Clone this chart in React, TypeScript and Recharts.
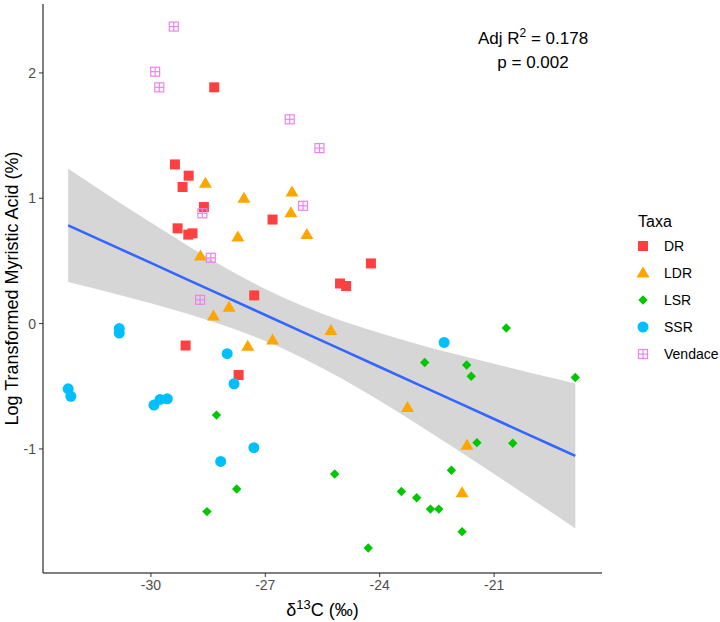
// 탄소 동위원소 vs 미리스트산 산점도 + 회귀선
import { ComposedChart, Scatter, Area, Line, XAxis, YAxis } from "recharts";

const FONT = '"Liberation Sans", Arial, Helvetica, sans-serif';

const taxa = ["DR", "LDR", "LSR", "SSR", "Vendace"];
const taxaColors = ["#FF4040", "#FFA500", "#00C800", "#00BFFF", "#EE82EE"];

const drX = [-28.34, -29.37, -29.01, -29.17, -28.61, -29.3, -29.02, -28.91, -26.81, -24.23, -25.04, -24.88, -27.29, -29.09, -27.7];
const drY = [1.885, 1.27, 1.18, 1.09, 0.93, 0.76, 0.71, 0.72, 0.83, 0.48, 0.32, 0.3, 0.225, -0.175, -0.41];

const ldrX = [-28.57, -27.56, -26.3, -26.33, -27.72, -25.91, -28.7, -27.95, -28.36, -27.46, -26.81, -25.28, -23.27, -21.71, -21.84];
const ldrY = [1.12, 1.0, 1.05, 0.885, 0.69, 0.71, 0.54, 0.13, 0.06, -0.18, -0.13, -0.055, -0.67, -0.97, -1.35];

const lsrX = [-20.68, -22.82, -21.72, -21.6, -18.87, -21.45, -20.51, -25.18, -22.12, -23.43, -23.03, -22.67, -22.45, -21.84, -24.3, -28.28, -27.75, -28.53];
const lsrY = [-0.035, -0.31, -0.33, -0.42, -0.43, -0.95, -0.955, -1.2, -1.17, -1.34, -1.39, -1.48, -1.48, -1.66, -1.79, -0.73, -1.32, -1.5];

const ssrX = [-32.17, -32.1, -30.83, -30.83, -29.92, -29.76, -29.57, -28.0, -27.82, -28.17, -27.3, -22.31];
const ssrY = [-0.52, -0.58, -0.04, -0.075, -0.65, -0.605, -0.6, -0.24, -0.48, -1.1, -0.99, -0.15];

const vendaceX = [-29.4, -29.89, -29.78, -26.36, -25.58, -26.01, -28.65, -28.43, -28.71];
const vendaceY = [2.37, 2.01, 1.885, 1.63, 1.4, 0.94, 0.88, 0.525, 0.19];

// 회귀선과 신뢰구간
const fitX = [-32.17, -31, -30, -29, -28, -27, -26, -25, -24, -23, -22, -21, -20, -19.5, -18.87];
const fitY = [0.784, 0.622, 0.484, 0.345, 0.207, 0.069, -0.07, -0.208, -0.346, -0.485, -0.623, -0.761, -0.9, -0.969, -1.056];
const fitUpper = [1.236, 1.001, 0.806, 0.616, 0.438, 0.277, 0.138, 0.022, -0.076, -0.164, -0.245, -0.321, -0.397, -0.433, -0.478];
const fitLower = [0.332, 0.243, 0.162, 0.074, -0.024, -0.139, -0.278, -0.438, -0.616, -0.806, -1.001, -1.201, -1.403, -1.505, -1.634];

const xTicks = [-30, -27, -24, -21];
const yTicks = [-1, 0, 1, 2];

const toPoints = (xs: number[], ys: number[]) => xs.map((x, i) => ({ x, y: ys[i] }));

const groups = [
  toPoints(drX, drY),
  toPoints(ldrX, ldrY),
  toPoints(lsrX, lsrY),
  toPoints(ssrX, ssrY),
  toPoints(vendaceX, vendaceY),
];

const bandData = fitX.map((x, i) => ({ x, fit: fitY[i], band: [fitLower[i], fitUpper[i]] }));

function Marker({ kind, cx, cy, color }: { kind: number; cx: number; cy: number; color: string }) {
  if (cx == null || cy == null) return null;
  switch (kind) {
    case 0:
      return <rect x={cx - 5} y={cy - 5} width={10} height={10} fill={color} />;
    case 1:
      return (
        <polygon
          points={`${cx},${cy - 6.5} ${cx + 6.5},${cy + 4.5} ${cx - 6.5},${cy + 4.5}`}
          fill={color}
        />
      );
    case 2:
      return (
        <polygon
          points={`${cx},${cy - 4.7} ${cx + 4.7},${cy} ${cx},${cy + 4.7} ${cx - 4.7},${cy}`}
          fill={color}
        />
      );
    case 3:
      return <circle cx={cx} cy={cy} r={5.5} fill={color} />;
    default:
      return (
        <g stroke={color} strokeWidth={1.2} fill="none">
          <rect x={cx - 4.5} y={cy - 4.5} width={9} height={9} />
          <line x1={cx - 4.5} y1={cy} x2={cx + 4.5} y2={cy} />
          <line x1={cx} y1={cy - 4.5} x2={cx} y2={cy + 4.5} />
        </g>
      );
  }
}

const tickStyle = { fill: "#4D4D4D", fontSize: 14, fontFamily: FONT };

export default function App() {
  return (
    <div style={{ position: "absolute", left: 0, top: 0, width: 720, height: 622, background: "#fff" }}>
      <ComposedChart
        width={720}
        height={622}
        data={bandData}
        margin={{ top: 4, right: 118, bottom: 0, left: 0 }}
      >
        <XAxis
          type="number"
          dataKey="x"
          domain={[-32.83, -18.17]}
          ticks={xTicks}
          allowDataOverflow
          height={49}
          tickSize={4}
          tickMargin={3}
          tick={tickStyle}
          tickLine={{ stroke: "#333" }}
          axisLine={{ stroke: "#000" }}
          label={{
            content: (p: any) => {
              const vb = p.viewBox || {};
              return (
                <text
                  x={vb.x + vb.width / 2}
                  y={vb.y + 43}
                  textAnchor="middle"
                  fontSize={18}
                  fontFamily={FONT}
                  fill="#000"
                >
                  δ<tspan dy={-7} fontSize={13}>13</tspan>
                  <tspan dy={7}>C (‰)</tspan>
                </text>
              );
            },
          }}
        />
        <YAxis
          type="number"
          domain={[-1.99, 2.55]}
          ticks={yTicks}
          allowDataOverflow
          width={43}
          tickSize={4}
          tickMargin={3}
          tick={tickStyle}
          tickLine={{ stroke: "#333" }}
          axisLine={{ stroke: "#000" }}
          label={{
            content: (p: any) => {
              const vb = p.viewBox || {};
              const cy = vb.y + vb.height / 2;
              return (
                <text
                  x={12}
                  y={cy}
                  transform={`rotate(-90, 12, ${cy})`}
                  textAnchor="middle"
                  dominantBaseline="central"
                  fontSize={18}
                  fontFamily={FONT}
                  fill="#000"
                >
                  Log Transformed Myristic Acid (%)
                </text>
              );
            },
          }}
        />
        {groups.map((pts, k) => (
          <Scatter
            key={taxa[k]}
            name={taxa[k]}
            data={pts}
            dataKey="y"
            fill={taxaColors[k]}
            isAnimationActive={false}
            shape={(p: any) => <Marker kind={k} cx={p.cx} cy={p.cy} color={taxaColors[k]} />}
          />
        ))}
        <Area
          dataKey="band"
          type="monotone"
          stroke="none"
          fill="#999999"
          fillOpacity={0.4}
          isAnimationActive={false}
        />
        <Line
          dataKey="fit"
          type="linear"
          stroke="#3366FF"
          strokeWidth={2.6}
          dot={false}
          isAnimationActive={false}
        />
      </ComposedChart>

      <svg
        width={720}
        height={622}
        style={{ position: "absolute", left: 0, top: 0, pointerEvents: "none" }}
        fontFamily={FONT}
      >
        <text x={533} y={44} textAnchor="middle" fontSize={17} fill="#000">
          Adj R<tspan dy={-7} fontSize={12}>2</tspan>
          <tspan dy={7}> = 0.178</tspan>
        </text>
        <text x={533} y={68} textAnchor="middle" fontSize={17} fill="#000">
          p = 0.002
        </text>

        <text x={638} y={227} fontSize={16} fill="#000">Taxa</text>
        {taxa.map((t, k) => (
          <g key={t}>
            <Marker kind={k} cx={643} cy={246 + k * 27} color={taxaColors[k]} />
            <text x={664} y={246 + k * 27} dominantBaseline="central" fontSize={14} fill="#000">
              {t}
            </text>
          </g>
        ))}
      </svg>
    </div>
  );
}
